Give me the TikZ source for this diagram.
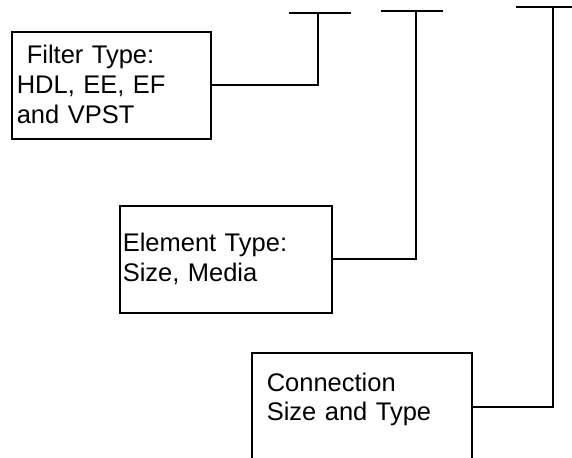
\documentclass[tikz,border=0pt]{standalone}
\usepackage{fontspec}
\setmainfont{Liberation Sans}
\tikzset{
	infobox/.style={draw, line width=0.9pt, anchor=north west, align=left, font=\fontsize{14.5}{17}\selectfont},
	wire/.style={line width=1.1pt}
}

\begin{document}
\begin{tikzpicture}
			%%%%% START %%%%%
			
			\useasboundingbox (0, 0) rectangle (11.44, 9.16);
			
			\node[infobox, minimum width=3.98cm, minimum height=2.14cm, inner xsep=0.1cm, text width=3.78cm, text depth=1.24cm] (filter) at (0.22, 8.54) {\hspace*{0.2cm}Filter Type:\\HDL, EE, EF\\and VPST};
			\node[infobox, minimum width=4.24cm, minimum height=2.14cm, inner xsep=0.06cm, text width=4.12cm] (element) at (2.38, 5.06) {Element Type:\\Size, Media};
			\node[infobox, minimum width=4.4cm, minimum height=2.16cm, inner xsep=0.3cm, text width=3.8cm, text depth=1.0cm] (connection) at (5.02, 2.12) {Connection\\Size and Type};
			
			\coordinate (tee1) at (6.36, 8.906);
			\coordinate (tee2) at (8.32, 8.946);
			\coordinate (tee3) at (11.06, 9.026);
			
			\draw[wire] ([xshift=-0.58cm]tee1) -- ([xshift=0.66cm]tee1);
			\draw[wire] ([xshift=-0.7cm]tee2) -- ([xshift=0.54cm]tee2);
			\draw[wire] ([xshift=-0.74cm]tee3) -- ([xshift=0.5cm]tee3);
			
			\draw[wire] (filter.east) -| (tee1);
			\draw[wire] (element.east) -| (tee2);
			\draw[wire] (connection.east) -| (tee3);
			
			%%%%% END %%%%%
\end{tikzpicture}
\end{document}
